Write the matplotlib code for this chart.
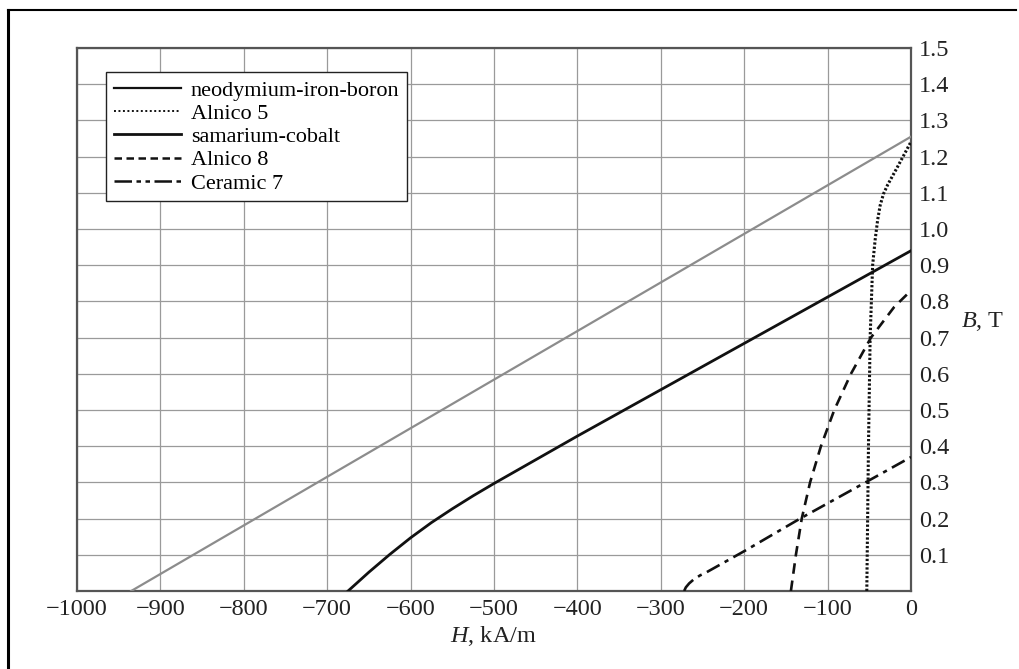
import numpy as np
import matplotlib.pyplot as plt
from matplotlib.lines import Line2D

plt.rcParams['font.family'] = ['Liberation Serif', 'DejaVu Serif']
plt.rcParams['mathtext.fontset'] = 'custom'
plt.rcParams['mathtext.it'] = 'Liberation Serif:italic'
plt.rcParams['mathtext.rm'] = 'Liberation Serif'

# demagnetization curves, H in kA/m, B in T
ndfeb_h = [-935, 0]
ndfeb_b = [0.0, 1.255]

alnico5_h = [-53, -51, -49, -46, -43, -40, -37, -33, -28, -17, 0]
alnico5_b = [0.0, 0.4, 0.7, 0.9, 0.97, 1.025, 1.065, 1.097, 1.122, 1.168, 1.241]

smco_h = [-675, -650, -625, -600, -575, -550, -525, -500, -400, -300, -200, -100, 0]
smco_b = [0.0, 0.052, 0.101, 0.147, 0.189, 0.227, 0.263, 0.297, 0.428, 0.556, 0.684, 0.812, 0.94]

alnico8_h = [-144, -138, -131, -121, -108, -92, -72, -48, -20, 0]
alnico8_b = [0.0, 0.1, 0.2, 0.3, 0.4, 0.5, 0.6, 0.7, 0.785, 0.83]

ceramic7_h = [-272, -270, -266, -261, -253, -245, -200, -133, -53, 0]
ceramic7_b = [0.0, 0.01, 0.021, 0.031, 0.043, 0.052, 0.11, 0.2, 0.302, 0.37]

x_ticks = [-1000, -900, -800, -700, -600, -500, -400, -300, -200, -100, 0]
y_ticks = [0.1, 0.2, 0.3, 0.4, 0.5, 0.6, 0.7, 0.8, 0.9, 1.0, 1.1, 1.2, 1.3, 1.4, 1.5]

fig = plt.figure(figsize=(10.19, 6.69), dpi=100)
ax = fig.add_axes([77 / 1019, 1 - 591 / 669, 834 / 1019, 543 / 669])

ax.set_xlim(-1000, 0)
ax.set_ylim(0, 1.5)
ax.set_xticks(x_ticks)
ax.set_xticklabels([str(v).replace('-', '\u2212') for v in x_ticks])
ax.set_yticks(y_ticks)
ax.set_yticklabels([f'{v:.1f}' for v in y_ticks])
ax.yaxis.tick_right()
ax.tick_params(length=0, labelsize=17.5, colors='#222222')
ax.tick_params(axis='x', pad=6)
ax.tick_params(axis='y', pad=6)
ax.grid(True, color='#9a9a9a', lw=0.9)
for s in ax.spines.values():
    s.set_color('#555555')
    s.set_linewidth(1.6)

ax.plot(ndfeb_h, ndfeb_b, color='#8c8c8c', lw=1.6, zorder=3)
ax.plot(alnico5_h, alnico5_b, color='#111111', lw=2.2, ls=(0, (0.75, 0.65)), zorder=3)
ax.plot(smco_h, smco_b, color='#111111', lw=2.0, zorder=3)
ax.plot(alnico8_h, alnico8_b, color='#111111', lw=1.9, ls=(0, (4, 2.6)), zorder=3)
ax.plot(ceramic7_h, ceramic7_b, color='#111111', lw=1.9, ls=(0, (5.5, 2.2, 1.6, 2.2)), zorder=3)

handles = [
    Line2D([], [], color='#111111', lw=1.6),
    Line2D([], [], color='#111111', lw=1.4, ls=(0, (1, 1.3))),
    Line2D([], [], color='#111111', lw=2.0),
    Line2D([], [], color='#111111', lw=1.8, ls=(0, (3, 1.8))),
    Line2D([], [], color='#111111', lw=1.8, ls=(0, (7, 1.8, 1.8, 1.8, 1.8, 1.8))),
]
labels = ['neodymium-iron-boron', 'Alnico 5', 'samarium-cobalt', 'Alnico 8', 'Ceramic 7']
leg = ax.legend(handles, labels, loc='upper left', bbox_to_anchor=(0.035, 0.955),
                fontsize=16, frameon=True, fancybox=False, framealpha=1,
                edgecolor='#222222', handlelength=3.0, handletextpad=0.45,
                labelspacing=0.12, borderpad=0.35, borderaxespad=0)
leg.get_frame().set_linewidth(1.0)

ax.text(1.06, 0.497, r'$\mathit{B}$, T', transform=ax.transAxes, fontsize=17.5,
        ha='left', va='center', color='#222222')
ax.text(0.499, -0.083, r'$\mathit{H}$, kA/m', transform=ax.transAxes, fontsize=17.5,
        ha='center', va='center', color='#222222')

# page frame
fig.add_artist(Line2D([8 / 1019, 8 / 1019], [0, 1 - 10 / 669], color='black', lw=2.2,
                      transform=fig.transFigure))
fig.add_artist(Line2D([8 / 1019, 1016 / 1019], [1 - 10 / 669, 1 - 10 / 669], color='black',
                      lw=1.5, transform=fig.transFigure))

fig.savefig('out.png', dpi=100)
